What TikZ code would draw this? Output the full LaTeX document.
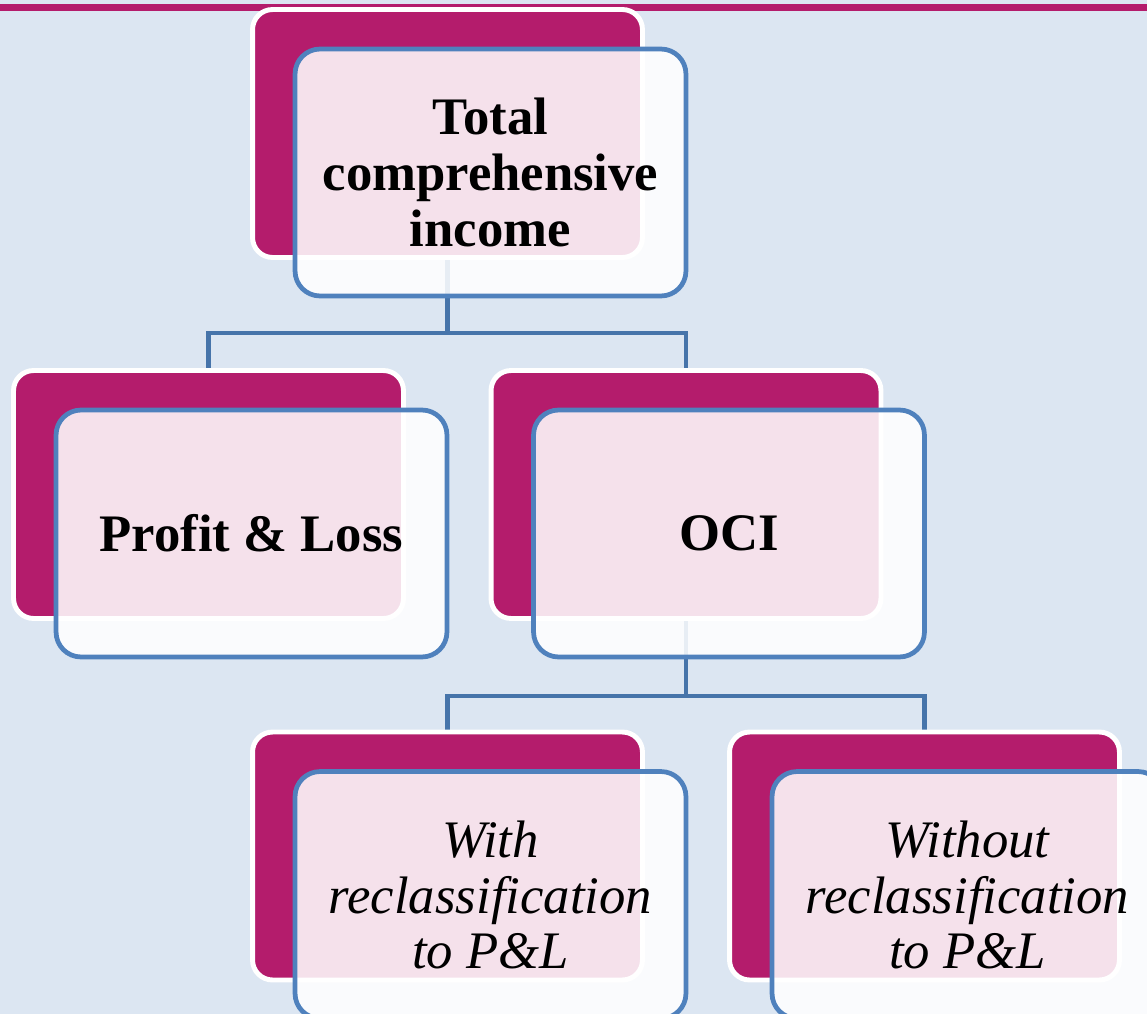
\documentclass[tikz,border=0pt]{standalone}
\usepackage{fontspec}
\setmainfont{Liberation Serif}

\definecolor{slide}{RGB}{220,230,242}
\definecolor{berry}{RGB}{180,28,108}
\definecolor{frame}{RGB}{79,129,189}
\definecolor{wire}{RGB}{70,116,170}

\pgfdeclarelayer{links}
\pgfsetlayers{links,main}

\tikzset{
  back/.style={draw=white, line width=2.8pt, fill=berry, rounded corners=0.4cm,
    minimum width=7.8cm, minimum height=4.96cm},
  front/.style={draw=frame, line width=2.7pt, fill=white, fill opacity=.87,
    text opacity=1, rounded corners=0.5cm, minimum width=7.82cm,
    minimum height=4.94cm, align=center},
  bold/.style={front, font=\fontsize{30}{31.8}\selectfont\bfseries},
  slant/.style={front, font=\fontsize{30}{31.8}\selectfont\itshape},
  link/.style={draw=wire, line width=2.6pt}
}

\begin{document}
\begin{tikzpicture}[x=0.02cm, y=-0.02cm]
  \useasboundingbox (0,0) rectangle (1147,1014);
  \clip (0,0) rectangle (1147,1014);
  % magenta cards behind
  \node[back] (tcb) at (447.5,133.5) {};
  \node[back] (plb) at (208.5,494.5) {};
  \node[back] (ocb) at (686,494.5) {};
  \node[back] (wib) at (447.5,856) {};
  \node[back] (wob) at (924.5,856) {};
  % framed cards in front
  \node[bold] (tc) at ([shift={(43,39)}]tcb.center) {Total\\comprehensive\\income};
  \node[bold] (pl) at ([shift={(43,39)}]plb.center) {Profit \& Loss};
  \node[bold] (oc) at ([shift={(43,39)}]ocb.center) {OCI};
  \node[slant] (wi) at ([shift={(43,39)}]wib.center) {With\\reclassification\\to P\&L};
  \node[slant] (wo) at ([shift={(43,39)}]wob.center) {Without\\reclassification\\to P\&L};
  % tree lines, under the cards
  \coordinate (bus1) at (0,333);
  \coordinate (bus2) at (0,696);
  \begin{pgfonlayer}{links}
    \fill[slide] (0,0) rectangle (1147,1014);
    \fill[berry] (0,4) rectangle (1147,11);
    \draw[link] (tcb.south) -- (tcb.south |- bus1) -| (plb.north);
    \draw[link] (tcb.south |- bus1) -| (ocb.north);
    \draw[link] (ocb.south) -- (ocb.south |- bus2) -| (wib.north);
    \draw[link] (ocb.south |- bus2) -| (wob.north);
  \end{pgfonlayer}
\end{tikzpicture}
\end{document}
